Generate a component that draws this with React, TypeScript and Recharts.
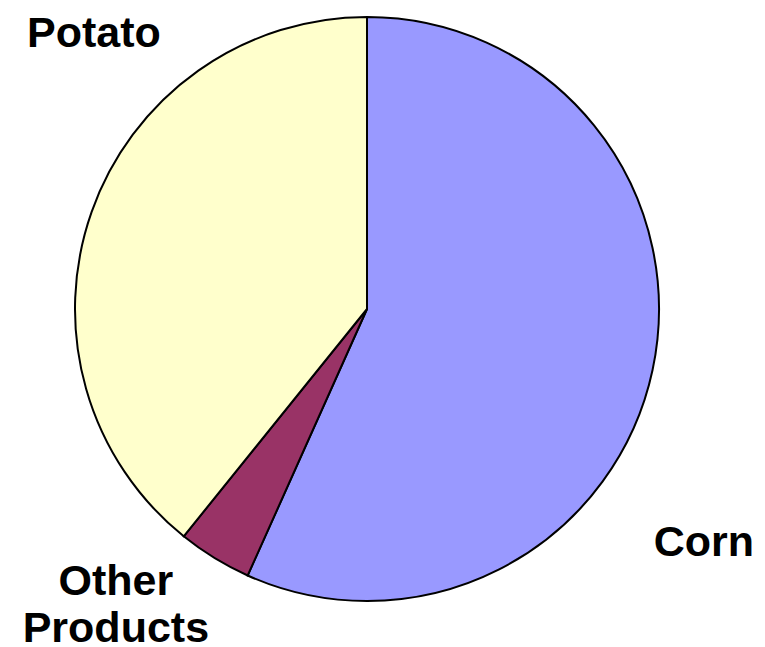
import React from "react";
import { PieChart, Pie, Cell } from "recharts";

// Share of production by crop (percent)
const crops = ["Corn", "Other Products", "Potato"];
const shares = [56.7, 4.1, 39.2];
const colors = ["#9999FF", "#993366", "#FFFFCC"];

const data = crops.map((name, i) => ({ name, value: shares[i] }));

// where each label sits relative to the pie centre, in radii
const labelSpots: Record<string, { dx: number; dy: number; lines: string[] }> = {
  Corn: { dx: 1.154, dy: 0.795, lines: ["Corn"] },
  "Other Products": { dx: -0.86, dy: 1.01, lines: ["Other", "Products"] },
  Potato: { dx: -0.935, dy: -0.949, lines: ["Potato"] },
};

const renderLabel = (props: any) => {
  const { cx, cy, outerRadius, name } = props;
  const spot = labelSpots[name];
  if (!spot) return null;
  const x = cx + spot.dx * outerRadius;
  const y = cy + spot.dy * outerRadius;
  const lineH = 47;
  const top = y - ((spot.lines.length - 1) * lineH) / 2;
  return (
    <text
      x={x}
      y={top}
      textAnchor="middle"
      dominantBaseline="central"
      fill="#000"
      style={{ fontFamily: "'Liberation Sans', Arial, sans-serif", fontWeight: 700, fontSize: 43 }}
    >
      {spot.lines.map((l, i) => (
        <tspan key={l} x={x} y={top + i * lineH} dominantBaseline="central">
          {l}
        </tspan>
      ))}
    </text>
  );
};

export default function App() {
  return (
    <div style={{ position: "absolute", left: 0, top: 0, width: 765, height: 647, background: "#fff" }}>
      <PieChart width={765} height={647} margin={{ top: 0, right: 0, bottom: 0, left: 0 }}>
        <Pie
          data={data}
          dataKey="value"
          nameKey="name"
          cx={367}
          cy={309}
          outerRadius={292}
          startAngle={90}
          endAngle={-270}
          stroke="#000"
          strokeWidth={2}
          label={renderLabel}
          labelLine={false}
          isAnimationActive={false}
        >
          {data.map((d, i) => (
            <Cell key={d.name} fill={colors[i]} />
          ))}
        </Pie>
      </PieChart>
    </div>
  );
}
